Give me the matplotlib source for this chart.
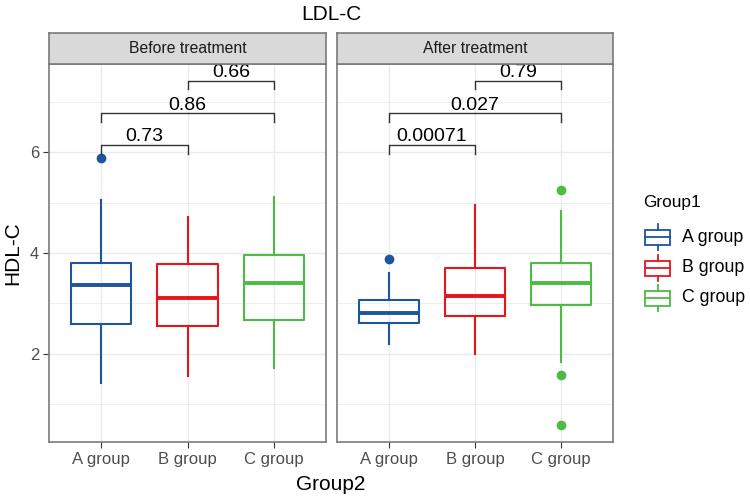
import numpy as np
import matplotlib
matplotlib.use("Agg")
import matplotlib.pyplot as plt
from matplotlib.patches import Rectangle

plt.rcParams['font.family'] = ['Liberation Sans', 'DejaVu Sans']

# data
groups = ['A group', 'B group', 'C group']
panels = ['Before treatment', 'After treatment']
colors = ['#1D559F', '#E8131B', '#4DBB45']

# per panel, per group: whisker low, q1, median, q3, whisker high
before_stats = [[1.43, 2.59, 3.37, 3.80, 5.05],
                [1.57, 2.55, 3.11, 3.78, 4.72],
                [1.72, 2.67, 3.40, 3.97, 5.11]]
after_stats = [[2.19, 2.62, 2.81, 3.06, 3.60],
               [2.00, 2.76, 3.15, 3.71, 4.95],
               [1.85, 2.98, 3.40, 3.80, 4.84]]
before_out = [[5.88], [], []]
after_out = [[3.88], [], [5.25, 1.58, 0.59]]

# p-value brackets: (from, to, label)
before_p = [(0, 1, '0.73'), (0, 2, '0.86'), (1, 2, '0.66')]
after_p = [(0, 1, '0.00071'), (0, 2, '0.027'), (1, 2, '0.79')]
bracket_y = [6.14, 6.77, 7.41]

W, H = 750, 500
fig = plt.figure(figsize=(7.5, 5), dpi=100)

def px_axes(x0, y0, x1, y1):
    return fig.add_axes([x0 / W, 1 - y1 / H, (x1 - x0) / W, (y1 - y0) / H])

grey_border = '#7a7a7a'
panel_x = [(49, 326), (337, 613)]
all_stats = [before_stats, after_stats]
all_out = [before_out, after_out]
all_p = [before_p, after_p]

for i in range(2):
    x0, x1 = panel_x[i]
    ax = px_axes(x0, 64, x1, 442)
    pos = np.arange(1, 4)
    for j in range(3):
        lo, q1, med, q3, hi = all_stats[i][j]
        st = [dict(whislo=lo, q1=q1, med=med, q3=q3, whishi=hi, fliers=all_out[i][j])]
        ax.bxp(st, positions=[pos[j]], widths=0.7, showcaps=False, patch_artist=False,
               boxprops=dict(color=colors[j], lw=1.5),
               whiskerprops=dict(color=colors[j], lw=1.5),
               medianprops=dict(color=colors[j], lw=2.8, solid_capstyle='butt'),
               flierprops=dict(marker='o', markerfacecolor=colors[j], markeredgecolor=colors[j],
                               markersize=6))
    for k, (a, b, lab) in enumerate(all_p[i]):
        y = bracket_y[k]
        ax.plot([pos[a], pos[a], pos[b], pos[b]], [y - 0.17, y, y, y - 0.17],
                color='#333333', lw=1.0)
        ax.text((pos[a] + pos[b]) / 2, y + 0.07, lab, ha='center', va='baseline',
                fontsize=14, clip_on=True)
    ax.set_xlim(0.4, 3.6)
    ax.set_ylim(0.257, 7.743)
    ax.set_xticks(pos)
    ax.set_xticklabels(groups)
    ax.set_yticks([2, 4, 6])
    ax.set_yticks([1, 3, 5, 7], minor=True)
    ax.grid(True, which='major', color='#EBEBEB', lw=1.0)
    ax.grid(True, which='minor', axis='y', color='#EBEBEB', lw=0.6)
    ax.set_axisbelow(True)
    ax.tick_params(axis='both', which='major', length=4, color='#333333',
                   labelsize=12, labelcolor='#4D4D4D', pad=3)
    ax.tick_params(axis='y', which='minor', length=0)
    if i == 1:
        ax.tick_params(axis='y', which='major', left=False, labelleft=False)
    for s in ax.spines.values():
        s.set_color(grey_border)
        s.set_linewidth(1.2)
    # facet strip
    sax = px_axes(x0, 33, x1, 64)
    sax.set_facecolor('#D9D9D9')
    sax.set_xticks([])
    sax.set_yticks([])
    for s in sax.spines.values():
        s.set_color(grey_border)
        s.set_linewidth(1.2)
    sax.text(0.5, 0.5, panels[i], ha='center', va='center', fontsize=11.3,
             color='#1A1A1A', transform=sax.transAxes)

fig.text(331 / W, 1 - 14 / H, 'LDL-C', ha='center', va='center', fontsize=15)
fig.text(331 / W, 1 - 484 / H, 'Group2', ha='center', va='center', fontsize=15)
fig.text(13 / W, 1 - 253 / H, 'HDL-C', ha='center', va='center', fontsize=15, rotation=90)

# legend
lax = px_axes(630, 185, 750, 320)
lax.set_xlim(630, 750)
lax.set_ylim(320, 185)
lax.axis('off')
lax.text(643, 203, 'Group1', ha='left', va='center', fontsize=12.4)
row_y = [237, 268, 298]
for j in range(3):
    y = row_y[j]
    c = colors[j]
    lax.add_patch(Rectangle((645, y - 7.5), 25, 15, fill=False, edgecolor=c, lw=1.3))
    lax.plot([645, 670], [y, y], color=c, lw=1.3)
    lax.plot([657.5, 657.5], [y - 13, y - 7.5], color=c, lw=1.3)
    lax.plot([657.5, 657.5], [y + 7.5, y + 13], color=c, lw=1.3)
    lax.text(682, y, groups[j], ha='left', va='center', fontsize=12.8)

fig.savefig('out.png', dpi=100)
